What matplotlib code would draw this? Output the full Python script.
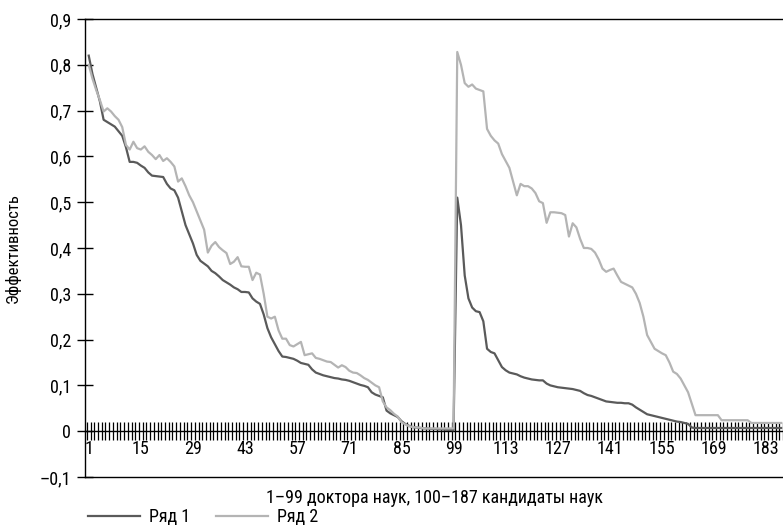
import numpy as np
import matplotlib
matplotlib.use("Agg")
import matplotlib.pyplot as plt
from matplotlib import font_manager
from matplotlib.ticker import FixedLocator, FuncFormatter

# look for a narrow sans face, the reference uses a condensed font
narrow = None
stretch = 'normal'
names = set(f.name for f in font_manager.fontManager.ttflist)
for n in ['Liberation Sans Narrow', 'Roboto Condensed', 'Open Sans Condensed',
          'DejaVu Sans Condensed', 'Noto Sans Condensed']:
    if n in names:
        narrow = n
        break
if narrow is None:
    for f in font_manager.fontManager.ttflist:
        if f.name in ('DejaVu Sans', 'Roboto', 'Noto Sans', 'Open Sans') and \
                str(f.stretch) in ('condensed', 'semi-condensed', '500', '400', '300') and \
                str(f.stretch) != 'normal' and f.style == 'normal':
            narrow = f.name
            stretch = f.stretch
            break
if narrow is None:
    narrow = 'Liberation Sans'
plt.rcParams['font.family'] = [narrow, 'DejaVu Sans']
plt.rcParams['font.stretch'] = stretch
fs = 13 if narrow != 'Liberation Sans' else 12

# Ряд 1: 1-99 doctors, 100-187 candidates
s1_doc = [0.82, 0.78, 0.75, 0.72, 0.68, 0.675, 0.67, 0.665, 0.655, 0.645,
          0.62, 0.588, 0.588, 0.586, 0.58, 0.575, 0.565, 0.558, 0.557, 0.556,
          0.555, 0.54, 0.53, 0.526, 0.51, 0.48, 0.45, 0.43, 0.41, 0.385,
          0.372, 0.366, 0.36, 0.35, 0.345, 0.338, 0.33, 0.325, 0.32, 0.314,
          0.31, 0.304, 0.304, 0.303, 0.29, 0.283, 0.278, 0.255, 0.225, 0.205,
          0.19, 0.175, 0.163, 0.162, 0.16, 0.158, 0.154, 0.149, 0.147, 0.145,
          0.135, 0.128, 0.125, 0.122, 0.12, 0.118, 0.116, 0.115, 0.113, 0.112,
          0.11, 0.107, 0.104, 0.101, 0.099, 0.096, 0.085, 0.08, 0.077, 0.074,
          0.045, 0.039, 0.035, 0.031, 0.022, 0.016, 0.012, 0.009, 0.008, 0.007,
          0.006, 0.006, 0.005, 0.005, 0.004, 0.004, 0.003, 0.003, 0.002]
s1_cand = [0.51, 0.45, 0.34, 0.29, 0.27, 0.262, 0.26, 0.24, 0.18, 0.173,
           0.17, 0.155, 0.14, 0.133, 0.128, 0.126, 0.124, 0.12, 0.117, 0.115,
           0.113, 0.112, 0.111, 0.111, 0.104, 0.1, 0.098, 0.096, 0.095, 0.094,
           0.093, 0.092, 0.09, 0.088, 0.083, 0.079, 0.077, 0.074, 0.071, 0.068,
           0.065, 0.064, 0.063, 0.062, 0.062, 0.061, 0.061, 0.058, 0.052, 0.047,
           0.042, 0.037, 0.035, 0.033, 0.031, 0.029, 0.027, 0.025, 0.023, 0.021,
           0.02, 0.018, 0.016, 0.008,
           0.007, 0.007, 0.007, 0.007, 0.007, 0.007, 0.007, 0.007, 0.007, 0.007,
           0.007, 0.007, 0.007, 0.007, 0.007, 0.007, 0.007, 0.007, 0.007, 0.007,
           0.007, 0.007, 0.007, 0.007]

# Ряд 2
s2_doc = [0.80, 0.77, 0.745, 0.723, 0.698, 0.705, 0.698, 0.688, 0.68, 0.664,
          0.625, 0.615, 0.632, 0.618, 0.615, 0.622, 0.61, 0.603, 0.594, 0.603,
          0.59, 0.596, 0.588, 0.578, 0.545, 0.552, 0.535, 0.515, 0.5, 0.48,
          0.46, 0.44, 0.39, 0.405, 0.413, 0.402, 0.395, 0.389, 0.365, 0.37,
          0.38, 0.36, 0.359, 0.359, 0.33, 0.346, 0.342, 0.3, 0.25, 0.246,
          0.25, 0.22, 0.202, 0.202, 0.188, 0.185, 0.19, 0.195, 0.166, 0.168,
          0.17, 0.16, 0.158, 0.155, 0.152, 0.151, 0.145, 0.139, 0.144, 0.14,
          0.132, 0.128, 0.127, 0.122, 0.116, 0.112, 0.106, 0.1, 0.096, 0.065,
          0.052, 0.046, 0.038, 0.032, 0.02, 0.015, 0.011, 0.009, 0.008, 0.008,
          0.006, 0.006, 0.006, 0.006, 0.006, 0.006, 0.006, 0.006, 0.006]
s2_cand = [0.828, 0.80, 0.76, 0.752, 0.757, 0.748, 0.745, 0.742, 0.66, 0.645,
           0.635, 0.628, 0.605, 0.59, 0.575, 0.545, 0.515, 0.54, 0.535, 0.535,
           0.53, 0.52, 0.502, 0.498, 0.455, 0.478, 0.478, 0.477, 0.476, 0.472,
           0.425, 0.454, 0.445, 0.42, 0.4, 0.4, 0.398, 0.39, 0.375, 0.355,
           0.348, 0.352, 0.355, 0.34, 0.326, 0.322, 0.318, 0.314, 0.3, 0.28,
           0.25, 0.21, 0.195, 0.18, 0.175, 0.17, 0.166, 0.15, 0.13, 0.125,
           0.115, 0.1, 0.085, 0.06, 0.035,
           0.035, 0.035, 0.035, 0.035, 0.035, 0.035,
           0.024, 0.024, 0.024, 0.024, 0.024, 0.024, 0.024, 0.024,
           0.018, 0.018, 0.018, 0.018, 0.018, 0.018, 0.018, 0.018, 0.018]

s1 = np.array(s1_doc + s1_cand)
s2 = np.array(s2_doc + s2_cand)
x = np.arange(1, len(s1) + 1)

x_labels = list(range(1, 188, 14))
y_ticks = [-0.1, 0, 0.1, 0.2, 0.3, 0.4, 0.5, 0.6, 0.7, 0.8, 0.9]

fig = plt.figure(figsize=(7.83, 5.29), dpi=100)
ax = fig.add_axes([85 / 783, 1 - 477 / 529, 1 - 85 / 783, (477 - 19) / 529])

ax.plot(x, s1, color='#5a5a5a', lw=1.6, label='Ряд 1')
ax.plot(x, s2, color='#b4b4b4', lw=1.6, label='Ряд 2')

ax.set_xlim(0, 187.5)
ax.set_ylim(-0.1, 0.9)

# frame
for side in ['left', 'top', 'bottom']:
    ax.spines[side].set_linewidth(1.0)
    ax.spines[side].set_color('black')
ax.spines['right'].set_visible(False)

# y axis
ax.set_yticks(y_ticks)
ax.yaxis.set_major_formatter(FuncFormatter(
    lambda v, p: '0' if abs(v) < 1e-9 else ('%.1f' % v).replace('.', ',').replace('-', '–')))
ax.tick_params(axis='y', direction='inout', length=12, width=1.0, labelsize=fs, pad=4)
ax.set_ylabel('Эффективность', fontsize=fs - 1)
ax.yaxis.set_label_coords(-0.092, 0.5)

# bottom x axis (frame only)
ax.tick_params(axis='x', which='both', length=0, labelbottom=False)
ax.set_xlabel('1–99 доктора наук, 100–187 кандидаты наук', fontsize=fs)
ax.xaxis.set_label_coords(0.5, -0.026)

# category axis crossing at zero
sec = ax.secondary_xaxis(0.1)
sec.spines['bottom'].set_linewidth(1.0)
sec.xaxis.set_major_locator(FixedLocator(np.arange(0.5, 188, 1.0)))
sec.xaxis.set_major_formatter(FuncFormatter(lambda v, p: ''))
sec.xaxis.set_minor_locator(FixedLocator(x_labels))
sec.xaxis.set_minor_formatter(FuncFormatter(lambda v, p: '%d' % v))
sec.tick_params(axis='x', which='major', direction='inout', length=13, width=0.9)
sec.tick_params(axis='x', which='minor', length=0, labelsize=fs, pad=6)

fig.legend(loc='center left', bbox_to_anchor=(88 / 783, 1 - 517 / 529),
           ncol=2, frameon=False, fontsize=fs, handlelength=2.9,
           handletextpad=0.5, columnspacing=1.4, borderaxespad=0, borderpad=0)

plt.savefig('out.png', dpi=100)
